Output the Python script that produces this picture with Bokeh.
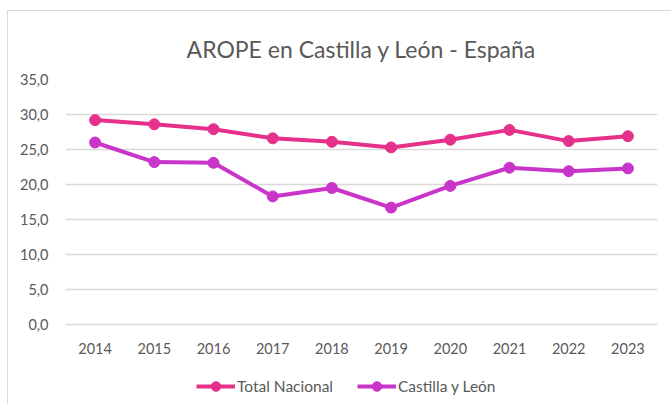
from bokeh.plotting import figure
from bokeh.models import (FactorRange, Range1d, CustomJSTickFormatter, FixedTicker,
                          Legend, LegendItem, ColumnDataSource)
from bokeh.core.properties import value
from bokeh.embed import file_html
from bokeh.resources import INLINE

years = ["2014", "2015", "2016", "2017", "2018", "2019", "2020", "2021", "2022", "2023"]
total_nacional = [29.2, 28.6, 27.9, 26.6, 26.1, 25.3, 26.4, 27.8, 26.2, 26.9]
castilla_leon = [26.0, 23.2, 23.1, 18.3, 19.5, 16.7, 19.8, 22.4, 21.9, 22.3]
series_names = ["Total Nacional", "Castilla y León"]
y_ticks = [0, 5, 10, 15, 20, 25, 30, 35]
title_text = "AROPE en Castilla y León - España"

COL_TN = "#E6318C"
COL_CL = "#C935C9"
TEXT = "#595959"
GRID = "#D9D9D9"
FONT = "Lato"

# frame spans 0..35 over 245px; extended below 0 so the legend fits inside the frame
Y_MIN = -11.57
p = figure(width=664, height=394, x_range=FactorRange(*years), y_range=Range1d(Y_MIN, 35),
           output_backend="svg", toolbar_location=None, x_axis_location=None,
           min_border_left=57, min_border_right=15, min_border_top=68, min_border_bottom=0)
p.styles = {"border-left": "1px solid #D9D9D9", "border-top": "1px solid #D9D9D9",
            "margin-left": "7px", "margin-top": "10px"}

p.title.text = title_text
p.title.align = "center"
p.title.text_font = FONT
p.title.text_font_size = "23px"
p.title.text_font_style = "normal"
p.title.text_color = TEXT
p.title.standoff = 33

p.outline_line_color = None
p.background_fill_color = "white"
p.border_fill_color = "white"

p.xgrid.grid_line_color = None
p.ygrid.grid_line_color = GRID
p.ygrid.grid_line_width = 1.3

p.yaxis.ticker = FixedTicker(ticks=y_ticks)
p.yaxis.formatter = CustomJSTickFormatter(code="return tick.toFixed(1).replace('.', ',');")
p.yaxis.axis_line_color = None
p.yaxis.major_tick_line_color = None
p.yaxis.minor_tick_line_color = None
p.yaxis.major_label_text_font = FONT
p.yaxis.major_label_text_font_size = "14.5px"
p.yaxis.major_label_text_color = TEXT
p.yaxis.major_label_standoff = 11

# category labels under the 0 line
base = [y_ticks[0]] * len(years)
p.text(x=years, y=base, text=years, y_offset=24, text_align="center",
       text_baseline="middle", text_font=value(FONT), text_font_size=value("14.5px"),
       text_color=TEXT)

src = ColumnDataSource(dict(year=years, tn=total_nacional, cl=castilla_leon))
l1 = p.line("year", "tn", source=src, line_color=COL_TN, line_width=4)
s1 = p.scatter("year", "tn", source=src, size=11, fill_color=COL_TN, line_color=COL_TN)
l2 = p.line("year", "cl", source=src, line_color=COL_CL, line_width=4)
s2 = p.scatter("year", "cl", source=src, size=11, fill_color=COL_CL, line_color=COL_CL)

legend = Legend(items=[LegendItem(label=series_names[0], renderers=[l1, s1]),
                       LegendItem(label=series_names[1], renderers=[l2, s2])],
                location=(131, 7), orientation="horizontal")
legend.padding = 0
legend.margin = 0
legend.spacing = 0
legend.border_line_alpha = 0
legend.background_fill_alpha = 0
legend.glyph_width = 39
legend.glyph_height = 24
legend.label_height = 24
legend.label_width = 120
legend.label_standoff = 2
legend.label_text_font = FONT
legend.label_text_font_size = "15.5px"
legend.label_text_color = TEXT
p.add_layout(legend, "center")

open("out.html", "w").write(file_html(p, INLINE))
